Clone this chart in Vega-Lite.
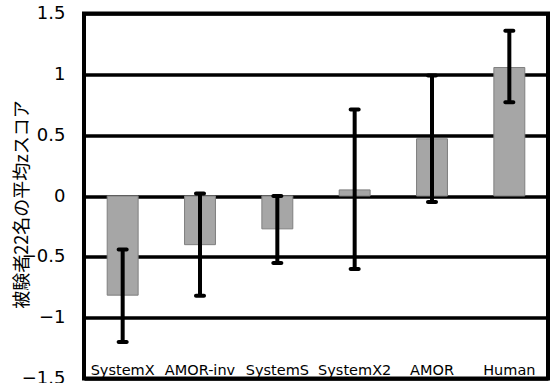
{
  "$schema": "https://vega.github.io/schema/vega-lite/v6.json",
  "autosize": "none",
  "width": 464,
  "height": 365,
  "padding": {"left": 84, "top": 13.5, "right": 2, "bottom": 4.5},
  "background": "white",
  "config": {
    "view": {"stroke": "black", "strokeWidth": 4},
    "font": "DejaVu Sans"
  },
  "data": {
    "values": [
      {"name": "SystemX", "mean": -0.815, "lo": -1.2, "hi": -0.44},
      {"name": "AMOR-inv", "mean": -0.4, "lo": -0.82, "hi": 0.02},
      {"name": "SystemS", "mean": -0.27, "lo": -0.55, "hi": 0.0},
      {"name": "SystemX2", "mean": 0.05, "lo": -0.6, "hi": 0.71},
      {"name": "AMOR", "mean": 0.47, "lo": -0.05, "hi": 0.99},
      {"name": "Human", "mean": 1.056, "lo": 0.77, "hi": 1.358}
    ]
  },
  "encoding": {
    "x": {
      "field": "name",
      "type": "nominal",
      "sort": null,
      "scale": {"paddingInner": 0.6, "paddingOuter": 0.3},
      "axis": {
        "title": null,
        "labelAngle": 0,
        "domain": false,
        "ticks": false,
        "tickSize": 0,
        "labelPadding": -4.5,
        "labelBaseline": "alphabetic",
        "labelFontSize": 14.5,
        "labelColor": "black",
        "labelFont": "DejaVu Sans"
      }
    }
  },
  "layer": [
    {
      "mark": {"type": "bar", "fill": "#a6a6a6", "stroke": "#7f7f7f", "strokeWidth": 1},
      "encoding": {
        "y": {
          "field": "mean",
          "type": "quantitative",
          "scale": {"domain": [-1.5, 1.5], "nice": false, "zero": false},
          "axis": {
            "values": [-1.5, -1, -0.5, 0, 0.5, 1, 1.5],
            "format": "~g",
            "grid": true,
            "gridColor": "black",
            "gridWidth": 3.5,
            "gridOpacity": 1,
            "domain": false,
            "ticks": false,
            "tickSize": 0,
            "labelPadding": 19,
            "labelFontSize": 18,
            "labelColor": "black",
            "labelFont": "DejaVu Sans",
            "title": "被験者22名の平均zスコア",
            "titleFont": "Noto Sans CJK JP",
            "titleFontSize": 18,
            "titleFontWeight": "normal",
            "titleColor": "black",
            "titleBaseline": "middle",
            "titleX": -62,
            "titleY": 190.5
          }
        }
      }
    },
    {
      "mark": {"type": "rule", "color": "black", "strokeWidth": 4},
      "encoding": {
        "y": {"field": "lo", "type": "quantitative"},
        "y2": {"field": "hi"}
      }
    },
    {
      "mark": {"type": "tick", "color": "black", "size": 12, "thickness": 4, "cornerRadius": 2, "opacity": 1},
      "encoding": {
        "y": {"field": "lo", "type": "quantitative"}
      }
    },
    {
      "mark": {"type": "tick", "color": "black", "size": 12, "thickness": 4, "cornerRadius": 2, "opacity": 1},
      "encoding": {
        "y": {"field": "hi", "type": "quantitative"}
      }
    }
  ]
}
